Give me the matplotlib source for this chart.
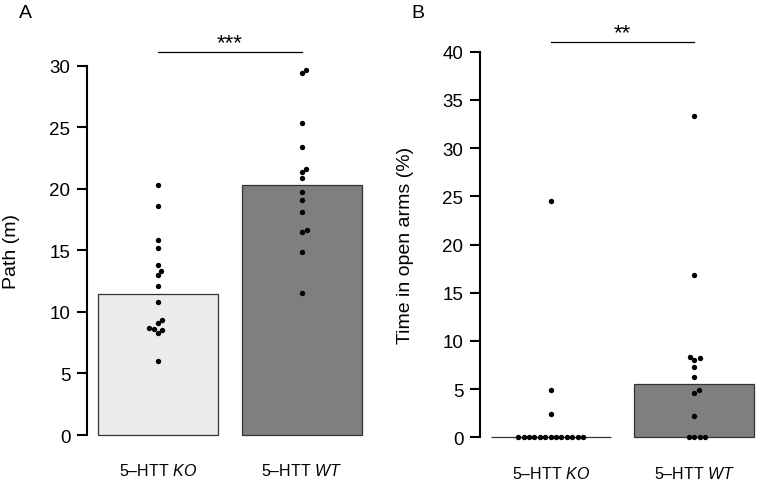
import numpy as np
import matplotlib
matplotlib.use('Agg')
import matplotlib.pyplot as plt

plt.rcParams['font.family'] = ['Liberation Sans', 'DejaVu Sans']
plt.rcParams['mathtext.fontset'] = 'custom'
plt.rcParams['mathtext.rm'] = 'Liberation Sans'
plt.rcParams['mathtext.it'] = 'Liberation Sans:italic'

# data (bars = group medians)
group_labels = [r'5–HTT $\mathit{KO}$', r'5–HTT $\mathit{WT}$']
bar_colors = ['#ebebeb', '#7f7f7f']

path_ko = [20.27, 18.64, 15.88, 15.18, 13.77, 13.36, 13.0, 12.14,
           10.84, 9.32, 9.13, 8.70, 8.62, 8.56, 8.27, 6.0]
path_wt = [29.62, 29.43, 25.31, 23.36, 21.63, 21.36, 20.87, 19.73,
           19.1, 18.1, 16.69, 16.53, 14.88, 11.5]

open_ko = [24.48, 4.9, 2.42, 0, 0, 0, 0, 0, 0, 0, 0, 0, 0, 0, 0, 0]
open_wt = [33.36, 16.84, 8.30, 8.19, 8.02, 7.26, 6.22, 4.9, 4.56,
           2.24, 0, 0, 0, 0]

panels = [
    dict(tag='A', ylabel='Path (m)', data=[path_ko, path_wt], yticks=np.arange(0, 31, 5),
         ylim=(-1.2, 31.2), stars='***', sig_y=31.1),
    dict(tag='B', ylabel='Time in open arms (%)', data=[open_ko, open_wt], yticks=np.arange(0, 41, 5),
         ylim=(-1.6, 41.6), stars='**', sig_y=41.0),
]

W, H = 758, 481
fig = plt.figure(figsize=(W / 100, H / 100), dpi=100)
# axes boxes in pixels: left, top, right, bottom
boxes = [(87, 51.9, 372.1, 450.8), (480, 37.3, 765, 453.7)]
centers = [0.7, 1.9]


def swarm(vals, ppu_y, d=5.4):
    # simple beeswarm: place each point at the free spot closest to the centre
    vals = np.asarray(vals, float)
    xs = np.zeros(len(vals))
    placed = []
    for i in np.argsort(vals, kind='stable'):
        y = vals[i] * ppu_y
        cands = [0.0]
        for px, py in placed:
            dy = y - py
            if abs(dy) < d:
                dx = np.sqrt(d * d - dy * dy)
                cands += [px + dx, px - dx]
        cands.sort(key=abs)
        for c in cands:
            if all((c - px) ** 2 + (y - py) ** 2 >= d * d - 1e-6 for px, py in placed):
                xs[i] = c
                break
        placed.append((xs[i], y))
    return xs


for p, (l, t, r, b) in zip(panels, boxes):
    ax = fig.add_axes([l / W, (H - b) / H, (r - l) / W, (b - t) / H])
    ax.set_xlim(0.112, 2.488)
    ax.set_ylim(*p['ylim'])

    meds = [np.median(v) for v in p['data']]
    ax.bar(centers, meds, width=1.0, color=bar_colors, edgecolor='#333333', linewidth=0.9, zorder=1)

    ppu_x = ax.transData.transform((1, 0))[0] - ax.transData.transform((0, 0))[0]
    ppu_y = ax.transData.transform((0, 1))[1] - ax.transData.transform((0, 0))[1]
    for c, vals in zip(centers, p['data']):
        off = swarm(vals, ppu_y)
        ax.scatter(c + off / ppu_x, vals, s=15, color='black', linewidths=0, zorder=3, clip_on=False)

    for side in ['top', 'right', 'bottom']:
        ax.spines[side].set_visible(False)
    ax.spines['left'].set_bounds(p['yticks'][0], p['yticks'][-1])
    ax.spines['left'].set_linewidth(1.5)
    ax.set_yticks(p['yticks'])
    ax.tick_params(axis='y', length=7, width=1.5, labelsize=13.5, pad=5)
    ax.set_xticks(centers)
    ax.set_xticklabels(group_labels)
    ax.tick_params(axis='x', length=0, labelsize=11.5, pad=9)

    ax.plot(centers, [p['sig_y']] * 2, color='black', lw=0.9, clip_on=False)
    ax.annotate(p['stars'], (np.mean(centers), p['sig_y']), xytext=(0, -1), textcoords='offset points',
                ha='center', va='bottom', fontsize=16, annotation_clip=False)

    fig.text((l - 75) / W, 1 - ((t + b) / 2) / H, p['ylabel'], rotation=90,
             ha='center', va='center', fontsize=14)
    fig.text((l - 62) / W, 1 - 13 / H, p['tag'], ha='center', va='center', fontsize=14)

fig.savefig('out.png', dpi=100)
